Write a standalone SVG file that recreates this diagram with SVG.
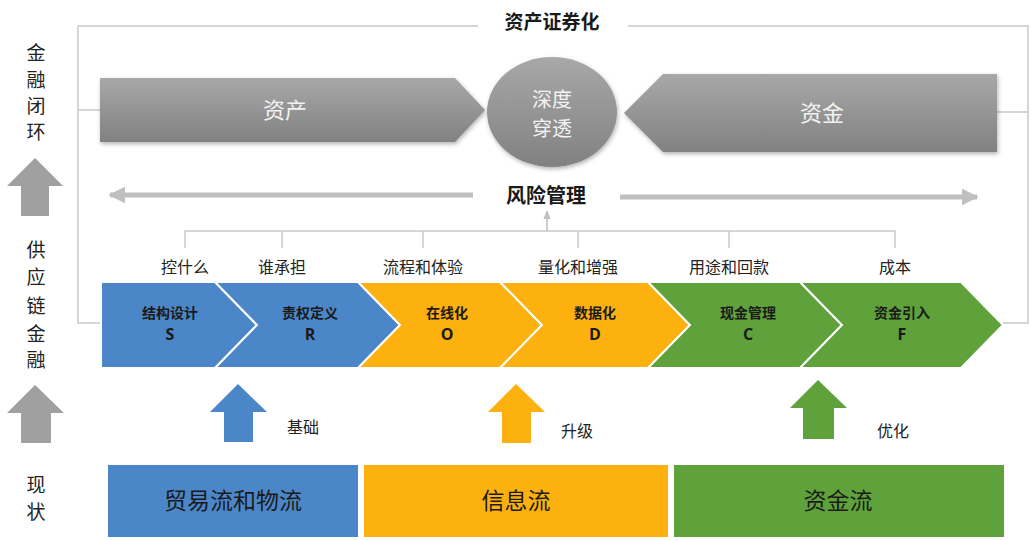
<svg xmlns="http://www.w3.org/2000/svg" width="1031" height="540" viewBox="0 0 1031 540">
<style>
  .cjk{font-family:"Noto Sans CJK SC","Noto Sans",sans-serif;}
  .frame{fill:none;stroke:#c9c9c9;stroke-width:1.5;}
  .side{font-size:19px;fill:#222;text-anchor:middle;}
  .lbl{font-size:16px;fill:#222;text-anchor:middle;}
  .gtxt{font-size:22px;fill:#f2f2f2;text-anchor:middle;}
  .ctxt{font-size:20px;fill:#f2f2f2;text-anchor:middle;}
  .ch{stroke:#fff;stroke-width:2;stroke-linejoin:miter;}
  .cht{font-size:14px;font-weight:bold;fill:#1a1a1a;text-anchor:middle;}
  .chl{font-family:"Open Sans","Noto Sans",sans-serif;font-size:16px;font-weight:bold;fill:#1a1a1a;text-anchor:middle;}
  .box{font-size:23px;fill:#1a1a1a;text-anchor:middle;}
  .blue{fill:#4a86c8;}
  .orange{fill:#fdb10f;}
  .green{fill:#5fa13a;}
  .grayup{fill:#a0a0a0;}
</style>
<defs>
  <linearGradient id="gg" x1="0" y1="0" x2="0" y2="1">
    <stop offset="0" stop-color="#a8a8a8"/>
    <stop offset="1" stop-color="#818181"/>
  </linearGradient>
  <filter id="sh" x="-10%" y="-20%" width="120%" height="140%">
    <feDropShadow dx="1" dy="2" stdDeviation="2" flood-color="#000" flood-opacity="0.3"/>
  </filter>
  <marker id="ah" viewBox="0 0 10 10" refX="9" refY="5" markerWidth="3.4" markerHeight="3.4" orient="auto" markerUnits="strokeWidth">
    <path d="M0,0 L10,5 L0,10 z" fill="#bfbfbf"/>
  </marker>
  <marker id="sa" viewBox="0 0 10 10" refX="9" refY="5" markerWidth="6" markerHeight="6" orient="auto" markerUnits="strokeWidth">
    <path d="M0,1 L10,5 L0,9 z" fill="#bfbfbf"/>
  </marker>
</defs>

<g id="connectors">
  <polyline class="frame" points="478,26 78,26 78,323 101,323"/>
  <polyline class="frame" points="628,26 1028,26 1028,323 1003,323"/>
  <line class="frame" x1="78" y1="110" x2="100" y2="110"/>
  <line class="frame" x1="997" y1="112" x2="1028" y2="112"/>
  <line x1="473" y1="195" x2="110" y2="195" stroke="#bfbfbf" stroke-width="5" marker-end="url(#ah)"/>
  <line x1="620" y1="197" x2="977" y2="197" stroke="#bfbfbf" stroke-width="5" marker-end="url(#ah)"/>
  <polyline class="frame" points="185,248 185,231 895,231 895,248"/>
  <line class="frame" x1="282" y1="231" x2="282" y2="248"/>
  <line class="frame" x1="423" y1="231" x2="423" y2="248"/>
  <line class="frame" x1="578" y1="231" x2="578" y2="248"/>
  <line class="frame" x1="729" y1="231" x2="729" y2="248"/>
  <line x1="547" y1="231" x2="547" y2="211" stroke="#bfbfbf" stroke-width="1.5" marker-end="url(#sa)"/>
</g>

<g id="side-labels" class="cjk">
  <text class="side" x="36" y="60">金</text>
  <text class="side" x="36" y="87">融</text>
  <text class="side" x="36" y="113">闭</text>
  <text class="side" x="36" y="139">环</text>
  <polygon class="grayup" points="35,158 63,186 49,186 49,216 21,216 21,186 7,186"/>
  <text class="side" x="36" y="257">供</text>
  <text class="side" x="36" y="284">应</text>
  <text class="side" x="36" y="313">链</text>
  <text class="side" x="36" y="341">金</text>
  <text class="side" x="36" y="367">融</text>
  <polygon class="grayup" points="35,385 64,413 51,413 51,443 21,443 21,413 7,413"/>
  <text class="side" x="36" y="492">现</text>
  <text class="side" x="36" y="519">状</text>
</g>

<g id="title" class="cjk">
  <text x="552" y="29" font-size="19" font-weight="bold" fill="#1a1a1a" text-anchor="middle">资产证券化</text>
</g>

<g id="asset" class="cjk">
  <polygon points="100,78 455,78 485,110 455,142 100,142" fill="url(#gg)" filter="url(#sh)"/>
  <text class="gtxt" x="285" y="118">资产</text>
</g>

<g id="penetrate" class="cjk">
  <ellipse cx="552" cy="112" rx="65" ry="55" fill="url(#gg)" filter="url(#sh)"/>
  <text class="ctxt" x="552" y="107">深度</text>
  <text class="ctxt" x="552" y="136">穿透</text>
</g>

<g id="fund" class="cjk">
  <polygon points="624,113 663,74 997,74 997,152 663,152" fill="url(#gg)" filter="url(#sh)"/>
  <text class="gtxt" x="822" y="121">资金</text>
</g>

<g id="risk" class="cjk">
  <text x="546" y="203" font-size="20" font-weight="bold" fill="#1a1a1a" text-anchor="middle">风险管理</text>
</g>

<g id="bracket-labels" class="cjk">
  <text class="lbl" x="185" y="273">控什么</text>
  <text class="lbl" x="282" y="273">谁承担</text>
  <text class="lbl" x="423" y="273">流程和体验</text>
  <text class="lbl" x="578" y="273">量化和增强</text>
  <text class="lbl" x="729" y="273">用途和回款</text>
  <text class="lbl" x="895" y="273">成本</text>
</g>

<g id="chevron-S" class="cjk">
  <polygon class="ch blue" points="101,282 215,282 257,325 215,368 101,368"/>
  <text class="cht" x="170" y="318">结构设计</text>
  <text class="chl" x="170" y="340">S</text>
</g>
<g id="chevron-R" class="cjk">
  <polygon class="ch blue" points="215,282 358,282 400,325 358,368 215,368 257,325"/>
  <text class="cht" x="310" y="318">责权定义</text>
  <text class="chl" x="310" y="340">R</text>
</g>
<g id="chevron-O" class="cjk">
  <polygon class="ch orange" points="358,282 500,282 542,325 500,368 358,368 400,325"/>
  <text class="cht" x="447" y="318">在线化</text>
  <text class="chl" x="447" y="340">O</text>
</g>
<g id="chevron-D" class="cjk">
  <polygon class="ch orange" points="500,282 648,282 690,325 648,368 500,368 542,325"/>
  <text class="cht" x="595" y="318">数据化</text>
  <text class="chl" x="595" y="340">D</text>
</g>
<g id="chevron-C" class="cjk">
  <polygon class="ch green" points="648,282 800,282 842,325 800,368 648,368 690,325"/>
  <text class="cht" x="748" y="318">现金管理</text>
  <text class="chl" x="748" y="340">C</text>
</g>
<g id="chevron-F" class="cjk">
  <polygon class="ch green" points="800,282 961,282 1003,325 961,368 800,368 842,325"/>
  <text class="cht" x="902" y="318">资金引入</text>
  <text class="chl" x="902" y="340">F</text>
</g>

<g id="up-basic" class="cjk">
  <polygon class="blue" points="238,384 267,412 253,412 253,442 224,442 224,412 210,412"/>
  <text class="lbl" x="303" y="433" font-size="17">基础</text>
</g>
<g id="up-upgrade" class="cjk">
  <polygon class="orange" points="516,384 545,412 531,412 531,443 502,443 502,412 488,412"/>
  <text class="lbl" x="577" y="437" font-size="17">升级</text>
</g>
<g id="up-optimize" class="cjk">
  <polygon class="green" points="818,380 847,408 834,408 834,439 803,439 803,408 790,408"/>
  <text class="lbl" x="893" y="437" font-size="17">优化</text>
</g>

<g id="box-trade" class="cjk">
  <rect class="blue" x="108" y="465" width="250" height="72"/>
  <text class="box" x="233" y="509">贸易流和物流</text>
</g>
<g id="box-info" class="cjk">
  <rect class="orange" x="364" y="465" width="304" height="72"/>
  <text class="box" x="516" y="509">信息流</text>
</g>
<g id="box-fund" class="cjk">
  <rect class="green" x="674" y="465" width="330" height="72"/>
  <text class="box" x="838" y="509">资金流</text>
</g>
</svg>
